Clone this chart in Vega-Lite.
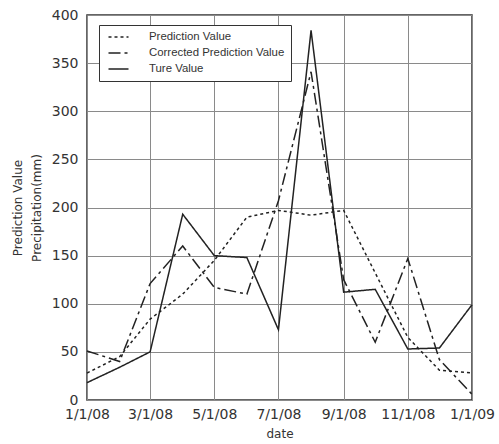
{
  "$schema": "https://vega.github.io/schema/vega-lite/v6.json",
  "width": 385,
  "height": 385,
  "autosize": "none",
  "padding": {"left": 87, "top": 15, "right": 27, "bottom": 44},
  "background": "white",
  "config": {
    "view": {"stroke": "#333333", "strokeWidth": 1.5},
    "font": "DejaVu Sans"
  },
  "data": {
    "values": [
      {"date": "2008-01-01", "series": "Prediction Value", "value": 28},
      {"date": "2008-02-01", "series": "Prediction Value", "value": 45},
      {"date": "2008-03-01", "series": "Prediction Value", "value": 84},
      {"date": "2008-04-01", "series": "Prediction Value", "value": 110},
      {"date": "2008-05-01", "series": "Prediction Value", "value": 145},
      {"date": "2008-06-01", "series": "Prediction Value", "value": 190},
      {"date": "2008-07-01", "series": "Prediction Value", "value": 197},
      {"date": "2008-08-01", "series": "Prediction Value", "value": 192},
      {"date": "2008-09-01", "series": "Prediction Value", "value": 197},
      {"date": "2008-10-01", "series": "Prediction Value", "value": 132},
      {"date": "2008-11-01", "series": "Prediction Value", "value": 65},
      {"date": "2008-12-01", "series": "Prediction Value", "value": 31},
      {"date": "2009-01-01", "series": "Prediction Value", "value": 28},
      {"date": "2008-01-01", "series": "Corrected Prediction Value", "value": 51},
      {"date": "2008-02-01", "series": "Corrected Prediction Value", "value": 40},
      {"date": "2008-03-01", "series": "Corrected Prediction Value", "value": 121},
      {"date": "2008-04-01", "series": "Corrected Prediction Value", "value": 160},
      {"date": "2008-05-01", "series": "Corrected Prediction Value", "value": 117},
      {"date": "2008-06-01", "series": "Corrected Prediction Value", "value": 110},
      {"date": "2008-07-01", "series": "Corrected Prediction Value", "value": 207},
      {"date": "2008-08-01", "series": "Corrected Prediction Value", "value": 341},
      {"date": "2008-09-01", "series": "Corrected Prediction Value", "value": 125},
      {"date": "2008-10-01", "series": "Corrected Prediction Value", "value": 60},
      {"date": "2008-11-01", "series": "Corrected Prediction Value", "value": 147},
      {"date": "2008-12-01", "series": "Corrected Prediction Value", "value": 42},
      {"date": "2009-01-01", "series": "Corrected Prediction Value", "value": 6},
      {"date": "2008-01-01", "series": "Ture Value", "value": 18},
      {"date": "2008-02-01", "series": "Ture Value", "value": 34},
      {"date": "2008-03-01", "series": "Ture Value", "value": 50},
      {"date": "2008-04-01", "series": "Ture Value", "value": 193},
      {"date": "2008-05-01", "series": "Ture Value", "value": 150},
      {"date": "2008-06-01", "series": "Ture Value", "value": 148},
      {"date": "2008-07-01", "series": "Ture Value", "value": 73},
      {"date": "2008-08-01", "series": "Ture Value", "value": 384},
      {"date": "2008-09-01", "series": "Ture Value", "value": 112},
      {"date": "2008-10-01", "series": "Ture Value", "value": 115},
      {"date": "2008-11-01", "series": "Ture Value", "value": 53},
      {"date": "2008-12-01", "series": "Ture Value", "value": 54},
      {"date": "2009-01-01", "series": "Ture Value", "value": 99}
    ]
  },
  "mark": {"type": "line", "strokeWidth": 1.5, "color": "#222222"},
  "encoding": {
    "x": {
      "field": "date",
      "type": "temporal",
      "scale": {
        "type": "utc",
        "domain": [
          {"year": 2008, "month": 1, "date": 1, "utc": true},
          {"year": 2009, "month": 1, "date": 1, "utc": true}
        ]
      },
      "axis": {
        "title": "date",
        "values": [
          {"year": 2008, "month": 1, "date": 1, "utc": true},
          {"year": 2008, "month": 3, "date": 1, "utc": true},
          {"year": 2008, "month": 5, "date": 1, "utc": true},
          {"year": 2008, "month": 7, "date": 1, "utc": true},
          {"year": 2008, "month": 9, "date": 1, "utc": true},
          {"year": 2008, "month": 11, "date": 1, "utc": true},
          {"year": 2009, "month": 1, "date": 1, "utc": true}
        ],
        "labelExpr": "utcFormat(datum.value, '%-m/%-d/%y')",
        "labelFont": "DejaVu Sans",
        "labelFontSize": 14,
        "labelColor": "#333333",
        "labelPadding": 7,
        "labelOverlap": false,
        "labelFlush": false,
        "ticks": false,
        "domain": false,
        "grid": true,
        "gridColor": "#8a8a8a",
        "gridWidth": 1,
        "titleFont": "DejaVu Sans",
        "titleFontSize": 12,
        "titleFontWeight": "normal",
        "titleColor": "#333333",
        "titlePadding": 7
      }
    },
    "y": {
      "field": "value",
      "type": "quantitative",
      "scale": {"domain": [0, 400], "nice": false},
      "axis": {
        "title": ["Prediction Value", "Precipitation(mm)"],
        "values": [0, 50, 100, 150, 200, 250, 300, 350, 400],
        "labelFont": "DejaVu Sans",
        "labelFontSize": 14,
        "labelColor": "#333333",
        "labelPadding": 9,
        "ticks": false,
        "domain": false,
        "grid": true,
        "gridColor": "#8a8a8a",
        "gridWidth": 1,
        "titleFont": "DejaVu Sans",
        "titleFontSize": 12,
        "titleFontWeight": "normal",
        "titleColor": "#333333",
        "titleLineHeight": 19,
        "titlePadding": 8
      }
    },
    "strokeDash": {
      "field": "series",
      "type": "nominal",
      "scale": {
        "domain": ["Prediction Value", "Corrected Prediction Value", "Ture Value"],
        "range": [[3, 3], [12, 4, 3, 4], [1, 0]]
      },
      "legend": {
        "title": null,
        "orient": "none",
        "legendX": 12,
        "legendY": 10,
        "symbolType": "M-0.5,0H3.5",
        "symbolSize": 100,
        "symbolStrokeWidth": 1.5,
        "symbolStrokeColor": "#222222",
        "labelFont": "Liberation Sans",
        "labelFontSize": 11.4,
        "labelColor": "#333333",
        "labelOffset": 32,
        "rowPadding": 4,
        "padding": 6,
        "strokeColor": "#333333",
        "fillColor": "white"
      }
    }
  }
}
